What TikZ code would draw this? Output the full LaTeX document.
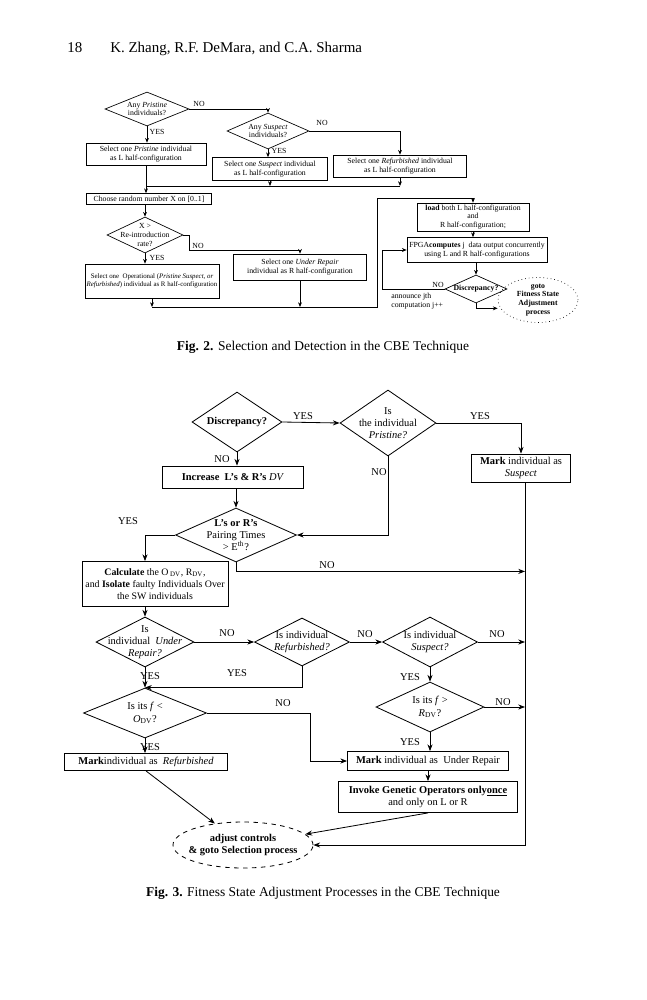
\documentclass[tikz,border=0pt]{standalone}
\usepackage{fontspec}
\setmainfont{Liberation Serif}
\usetikzlibrary{shapes.geometric,arrows.meta}
\newcommand{\pxu}{0.235mm}

\begin{document}
\begin{tikzpicture}[x=0.235mm, y=-0.235mm, >={Stealth[length=3.2pt,width=2.6pt]}, line width=0.45pt,
    sm/.style={font=\fontsize{5.2}{5.9}\selectfont},
    smb/.style={font=\fontsize{5.2}{5.9}\selectfont\bfseries},
    md/.style={font=\fontsize{7}{8.2}\selectfont},
    mdb/.style={font=\fontsize{7}{8.2}\selectfont\bfseries},
    boxs/.style={draw, sm, align=center, inner sep=1pt},
    boxm/.style={draw, md, align=center, inner sep=1pt},
    dia/.style={diamond, draw, inner sep=0pt},
    ovl/.style={ellipse, draw, inner sep=0pt}]
    \fill[white] (0,0) rectangle (647,1000);
    \useasboundingbox (0,0) rectangle (647,1000);

    % Running head
    \node[anchor=base west, font=\fontsize{10}{12}\selectfont] (pgno) at (62,53) {18};
    \node[anchor=base west, font=\fontsize{10}{12}\selectfont] (authors) at (105,53) {K. Zhang, R.F. DeMara, and C.A. Sharma};

    % Fig. 2: choosing the L half-configuration
    \node[dia, minimum width=84*\pxu, minimum height=34*\pxu, label={[sm, align=center]center:{Any \textit{Pristine}\\individuals?}}] (anypri) at (147,109) {};
    \node[dia, minimum width=82*\pxu, minimum height=36*\pxu, label={[sm, align=center]center:{Any \textit{Suspect}\\individuals?}}] (anysus) at (268,131) {};
    \node[boxs, minimum width=120*\pxu, minimum height=22*\pxu] (selpri) at (146,154) {Select one \textit{Pristine} individual\\as L half-configuration};
    \node[boxs, minimum width=115*\pxu, minimum height=23*\pxu] (selsus) at (270,169) {Select one \textit{Suspect} individual\\as L half-configuration};
    \node[boxs, minimum width=133*\pxu, minimum height=22*\pxu] (selref) at (400,166) {Select one \textit{Refurbished} individual\\as L half-configuration};
    \coordinate (lmerge) at (146,186);

    % Fig. 2: choosing the R half-configuration
    \node[boxs, minimum width=125*\pxu, minimum height=11*\pxu] (choose) at (149,199) {Choose random number X on [0..1]};
    \node[dia, minimum width=76*\pxu, minimum height=36*\pxu, label={[sm, align=center]center:{X >\\Re-introduction\\rate?}}] (reintro) at (145,235) {};
    \node[boxs, font=\fontsize{4.6}{5.6}\selectfont, minimum width=132*\pxu, minimum height=34*\pxu] (selop) at (152,281) {Select one\ \ Operational (\textit{Pristine Suspect, or}\\\textit{Refurbished}) individual as R half-configuration};
    \node[boxs, minimum width=133*\pxu, minimum height=26*\pxu] (selur) at (300,267) {Select one \textit{Under Repair}\\individual as R half-configuration};
    \coordinate (rmerge) at (377,307);

    % Fig. 2: detection
    \node[boxs, font=\fontsize{5.2}{5.5}\selectfont, minimum width=112*\pxu, minimum height=28*\pxu] (load) at (473,217) {\textbf{load} both L half-configuration\\and\\R half-configuration;};
    \node[boxs, minimum width=140*\pxu, minimum height=25*\pxu] (fpga) at (477,250) {FPGA\textbf{computes} j\ \ data output concurrently\\using L and R half-configurations};
    \node[dia, minimum width=62*\pxu, minimum height=28*\pxu, label={[smb]center:{Discrepancy?}}] (discA) at (476,289) {};
    \node[ovl, dotted, minimum width=80*\pxu, minimum height=45*\pxu, label={[smb, align=center]center:{goto\\Fitness State\\Adjustment\\process}}] (gofsa) at (538,300) {};
    \node[sm, align=left, anchor=north west] (announce) at (386,288) {announce jth\\computation j++};

    \node[sm] (no1) at (199,104) {NO};
    \node[sm] (yes1) at (157,132) {YES};
    \node[sm] (no2) at (322,123) {NO};
    \node[sm] (yes2) at (279,151) {YES};
    \node[sm] (no3) at (198,246) {NO};
    \node[sm] (yes3) at (157,258) {YES};
    \node[sm] (no4) at (438,285) {NO};

    \draw[->] (anypri.east) -| (anysus.north);
    \draw[->] (anysus.east) -| (selref.north);
    \draw[->] (anypri.south) -- (anypri.south |- selpri.north);
    \draw[->] (anysus.south) -- (anysus.south |- selsus.north);
    \draw[->] (selref.south) -- (selref.south |- lmerge);
    \draw[->] (selsus.south) -- (selsus.south |- lmerge);
    \draw (selref.south |- lmerge) -- (lmerge);
    \draw[->] (selpri.south) -- (selpri.south |- choose.north);
    \draw[->] (reintro.north |- choose.south) -- (reintro.north);
    \draw[->] (reintro.east) -- ++(6,0) -- ++(0,15) -| (selur.north);
    \draw[->] (reintro.south) -- (reintro.south |- selop.north);
    \draw[->] (selop.south) -- (selop.south |- rmerge);
    \draw[->] (selur.south) -- (selur.south |- rmerge);
    \draw[->] (selop.south |- rmerge) -- (rmerge) -- ++(0,-109) -| (load.north);
    \draw[->] (load.south) -- (load.south |- fpga.north);
    \draw[->] (discA.north |- fpga.south) -- (discA.north);
    \draw[->] (discA.west) -- ++(-62,0) |- (fpga.west);
    \draw[->] (discA.south) -- ++(0,5) coordinate (dsb) -- (dsb -| gofsa.west);

    \node[font=\fontsize{9}{11}\selectfont] (cap2) at (323,347) {\textbf{Fig. 2.} Selection and Detection in the CBE Technique};

    % Fig. 3: fitness state adjustment
    \begin{scope}[>={Stealth[length=4.5pt,width=3.4pt]}, line width=0.55pt]
    \node[dia, minimum width=90*\pxu, minimum height=60*\pxu, label={[mdb]center:{Discrepancy?}}] (discB) at (237,422) {};
    \node[dia, minimum width=96*\pxu, minimum height=66*\pxu, label={[md, align=center]center:{Is\\the individual\\\textit{Pristine?}}}] (ispri) at (388,423) {};
    \node[boxm, minimum width=99*\pxu, minimum height=28*\pxu] (marksus) at (521,468) {\textbf{Mark} individual as\\\textit{Suspect}};
    \node[boxm, minimum width=141*\pxu, minimum height=22*\pxu] (incdv) at (233,477) {\textbf{Increase\ \ L's \& R's} \textit{DV}};
    \node[dia, minimum width=121*\pxu, minimum height=54*\pxu, label={[md, align=center]center:{\textbf{L's or R's}\\Pairing Times\\> E\textsuperscript{th}?}}] (pairing) at (236,535) {};
    \node[boxm, font=\fontsize{6.6}{8}\selectfont, minimum width=146*\pxu, minimum height=45*\pxu] (calc) at (155,584) {\textbf{Calculate} the O\,\textsubscript{DV}, R\textsubscript{DV},\\and \textbf{Isolate} faulty Individuals Over\\the SW individuals};
    \node[dia, minimum width=98*\pxu, minimum height=50*\pxu, label={[md, align=center]center:{Is\\individual\ \ \textit{Under}\\\textit{Repair?}}}] (isur) at (145,642) {};
    \node[dia, minimum width=95*\pxu, minimum height=48*\pxu, label={[md, align=center]center:{Is individual\\\textit{Refurbished?}}}] (isref) at (302,642) {};
    \node[dia, minimum width=95*\pxu, minimum height=50*\pxu, label={[md, align=center]center:{Is individual\\\textit{Suspect?}}}] (issus) at (430,642) {};
    \node[dia, minimum width=123*\pxu, minimum height=50*\pxu, label={[md, align=center]center:{Is its \textit{f} <\\\textit{O}\textsubscript{DV}?}}] (flow) at (145,713) {};
    \node[dia, minimum width=108*\pxu, minimum height=50*\pxu, label={[md, align=center]center:{Is its \textit{f} >\\\textit{R}\textsubscript{DV}?}}] (fhigh) at (430,707) {};
    \node[boxm, minimum width=163*\pxu, minimum height=17*\pxu] (markref) at (146,762) {\textbf{Mark}individual as\ \ \textit{Refurbished}};
    \node[boxm, minimum width=161*\pxu, minimum height=19*\pxu] (markur) at (428,761) {\textbf{Mark} individual as\ \ Under Repair};
    \node[boxm, minimum width=179*\pxu, minimum height=31*\pxu] (invoke) at (428,797) {\textbf{Invoke Genetic Operators only\underline{once}}\\and only on L or R};
    \node[ovl, dashed, minimum width=140*\pxu, minimum height=46*\pxu, label={[mdb, align=center]center:{adjust controls\\\& goto Selection process}}] (adjust) at (243,845) {};
    \coordinate (rline) at (525,845);

    \node[md] (yes4) at (303,416) {YES};
    \node[md] (yes5) at (480,416) {YES};
    \node[md] (no5) at (222,459) {NO};
    \node[md] (no6) at (379,472) {NO};
    \node[md] (yes6) at (128,521) {YES};
    \node[md] (no7) at (327,565) {NO};
    \node[md] (no8) at (227,633) {NO};
    \node[md] (no9) at (365,634) {NO};
    \node[md] (no10) at (497,634) {NO};
    \node[md] (yes7) at (150,676) {YES};
    \node[md] (yes8) at (237,673) {YES};
    \node[md] (no11) at (283,703) {NO};
    \node[md] (no12) at (503,702) {NO};
    \node[md] (yes9) at (150,747) {YES};
    \node[md] (yes10) at (410,677) {YES};
    \node[md] (yes11) at (410,742) {YES};

    \draw[->] (discB.east) -- (ispri.west);
    \draw[->] (ispri.east) -| (marksus.north);
    \draw[->] (discB.south) -- (discB.south |- incdv.north);
    \draw[->] (ispri.south) |- (pairing.east);
    \draw[->] (pairing.north |- incdv.south) -- (pairing.north);
    \draw[->] (pairing.west) -| (isur.north |- calc.north);
    \draw[->] (pairing.south) -- ++(0,9) coordinate (pn) -- (pn -| rline);
    \draw[->] (isur.north |- calc.south) -- (isur.north);
    \draw[->] (isur.east) -- (isref.west);
    \draw[->] (isref.east) -- (issus.west);
    \draw[->] (issus.east) -- (issus.east -| rline);
    \draw[->] (isur.south) -- (flow.north);
    \draw[->] (isref.south) |- (flow.north);
    \draw[->] (flow.east) -- ++(103,0) |- (markur.west);
    \draw[->] (flow.south) -- (flow.south |- markref.north);
    \draw[->] (issus.south) -- (fhigh.north);
    \draw[->] (fhigh.east) -- (fhigh.east -| rline);
    \draw[->] (fhigh.south) -- (fhigh.south |- markur.north);
    \draw[->] (markur.south) -- (invoke.north);
    \draw[->] (markref.south) -- (adjust);
    \draw[->] (invoke.south) -- (adjust);
    \draw[->] (marksus.south -| rline) -- (rline) -- (adjust.east);
    \end{scope}

    \node[font=\fontsize{9}{11}\selectfont] (cap3) at (323,893) {\textbf{Fig. 3.} Fitness State Adjustment Processes in the CBE Technique};
\end{tikzpicture}
\end{document}
